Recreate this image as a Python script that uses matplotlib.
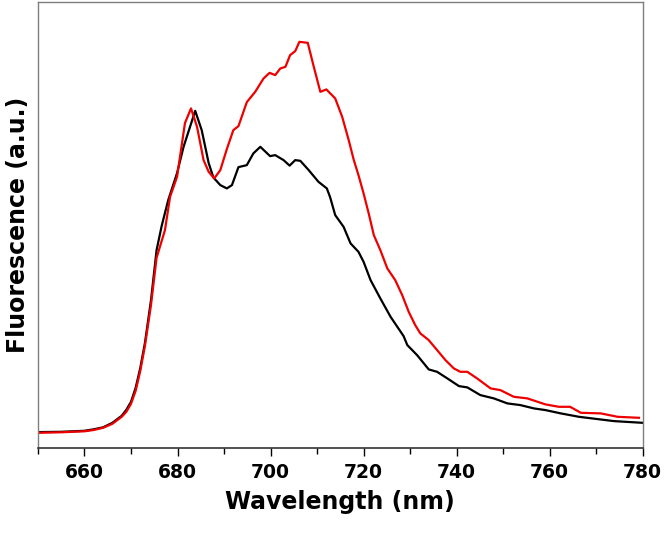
import matplotlib
matplotlib.use("Agg")
import matplotlib.pyplot as plt
from matplotlib.ticker import MultipleLocator

# black curve
wl_black = [650.0, 655.0, 660.0, 662.0, 664.0, 666.0, 668.0, 669.0, 670.0, 671.0,
            672.0, 673.0, 674.3, 675.5, 676.6, 678.0,
            679.9, 681.3, 683.8, 685.2, 686.7, 687.7, 689.2, 690.6, 691.7, 693.1,
            694.9, 696.3, 697.8, 699.9, 701.0, 702.8, 704.1, 705.3, 706.4, 708.2,
            710.3, 712.1, 712.8, 713.9, 715.7, 717.2, 718.9, 720.0, 721.5, 723.6,
            725.8, 728.6, 729.4, 731.5, 734.0, 735.8, 738.0, 740.5, 742.3, 745.1,
            748.0, 750.9, 753.7, 756.6, 759.1, 762.4, 766.3, 770.3, 773.8, 779.9]
fl_black = [15.7, 16.0, 17.0, 18.5, 20.5, 25.0, 32.0, 38.0, 46.0, 60.0,
            80.0, 105.0, 147.7, 197.7, 222.0, 247.7,
            274.7, 301.0, 337.0, 317.7, 284.7, 270.4, 262.7, 259.4, 262.7, 280.7,
            282.7, 294.4, 301.0, 291.7, 292.7, 287.7, 282.2, 287.7, 287.0, 277.7,
            266.0, 259.4, 250.7, 232.7, 221.0, 204.4, 196.0, 186.0, 167.7, 149.4,
            131.0, 111.7, 102.7, 92.7, 78.4, 76.0, 69.4, 61.7, 60.4, 52.7,
            49.4, 44.4, 42.7, 39.4, 37.7, 34.4, 31.0, 28.7, 26.7, 25.0]

# red curve
wl_red = [650.0, 655.0, 660.0, 662.0, 664.0, 666.0, 668.0, 669.0, 670.0, 671.0,
          672.0, 673.0, 674.3, 675.5, 677.3, 678.4,
          679.9, 681.6, 682.9, 684.2, 685.6, 686.7, 687.9, 689.2, 690.6, 692.0,
          693.1, 694.9, 696.7, 698.5, 699.8, 701.0, 702.1, 703.2, 704.2, 705.3,
          706.2, 708.0, 709.3, 710.7, 712.0, 713.9, 715.4, 716.8, 717.9, 718.9,
          720.0, 721.1, 722.2, 723.6, 725.1, 726.8, 728.3, 729.7, 731.1, 732.2,
          734.0, 735.8, 737.6, 739.4, 740.8, 742.3, 744.4, 747.3, 749.4, 752.3,
          755.2, 759.1, 762.0, 764.4, 766.7, 771.0, 774.6, 779.2]
fl_red = [15.0, 15.5, 16.5, 17.8, 20.0, 24.0, 31.0, 36.0, 44.0, 57.0,
          77.0, 102.0, 143.0, 190.0, 217.7, 251.0,
          271.0, 324.7, 339.4, 321.0, 287.7, 276.0, 269.4, 277.7, 298.7, 317.7,
          321.7, 345.7, 356.0, 369.4, 375.0, 372.7, 379.4, 381.0, 392.7, 396.7,
          406.0, 405.0, 381.0, 356.0, 358.4, 349.4, 331.0, 307.7, 287.7, 272.7,
          254.4, 234.4, 212.7, 197.7, 179.4, 167.7, 152.7, 136.0, 122.7, 114.4,
          107.7, 97.7, 87.7, 79.4, 76.0, 76.0, 69.4, 59.4, 57.7, 51.0,
          49.4, 43.4, 41.0, 41.0, 35.0, 34.4, 31.0, 30.0]

fig = plt.figure(figsize=(6.66, 5.35), dpi=100)
ax = fig.add_axes([0.057, 0.163, 0.908, 0.833])

ax.plot(wl_black, fl_black, color="black", lw=1.6)
ax.plot(wl_red, fl_red, color="#ee0000", lw=1.6)

ax.set_xlim(650, 780)
ax.set_ylim(0, 445.7)
ax.xaxis.set_major_locator(MultipleLocator(20))
ax.xaxis.set_minor_locator(MultipleLocator(10))
ax.set_yticks([])
ax.tick_params(axis="x", which="major", direction="out", length=6, width=1,
               labelsize=13.5, pad=5)
ax.tick_params(axis="x", which="minor", direction="out", length=4, width=1)
for lab in ax.get_xticklabels():
    lab.set_fontweight("bold")

for side in ["left", "top", "right"]:
    ax.spines[side].set_color("#7f7f7f")
    ax.spines[side].set_linewidth(1)
ax.spines["bottom"].set_color("#333333")
ax.spines["bottom"].set_linewidth(1.2)

ax.set_xlabel("Wavelength (nm)", fontsize=17, fontweight="bold", labelpad=6)
ax.set_ylabel("Fluorescence (a.u.)", fontsize=17, fontweight="bold", labelpad=6)

fig.savefig("out.png", dpi=100)
